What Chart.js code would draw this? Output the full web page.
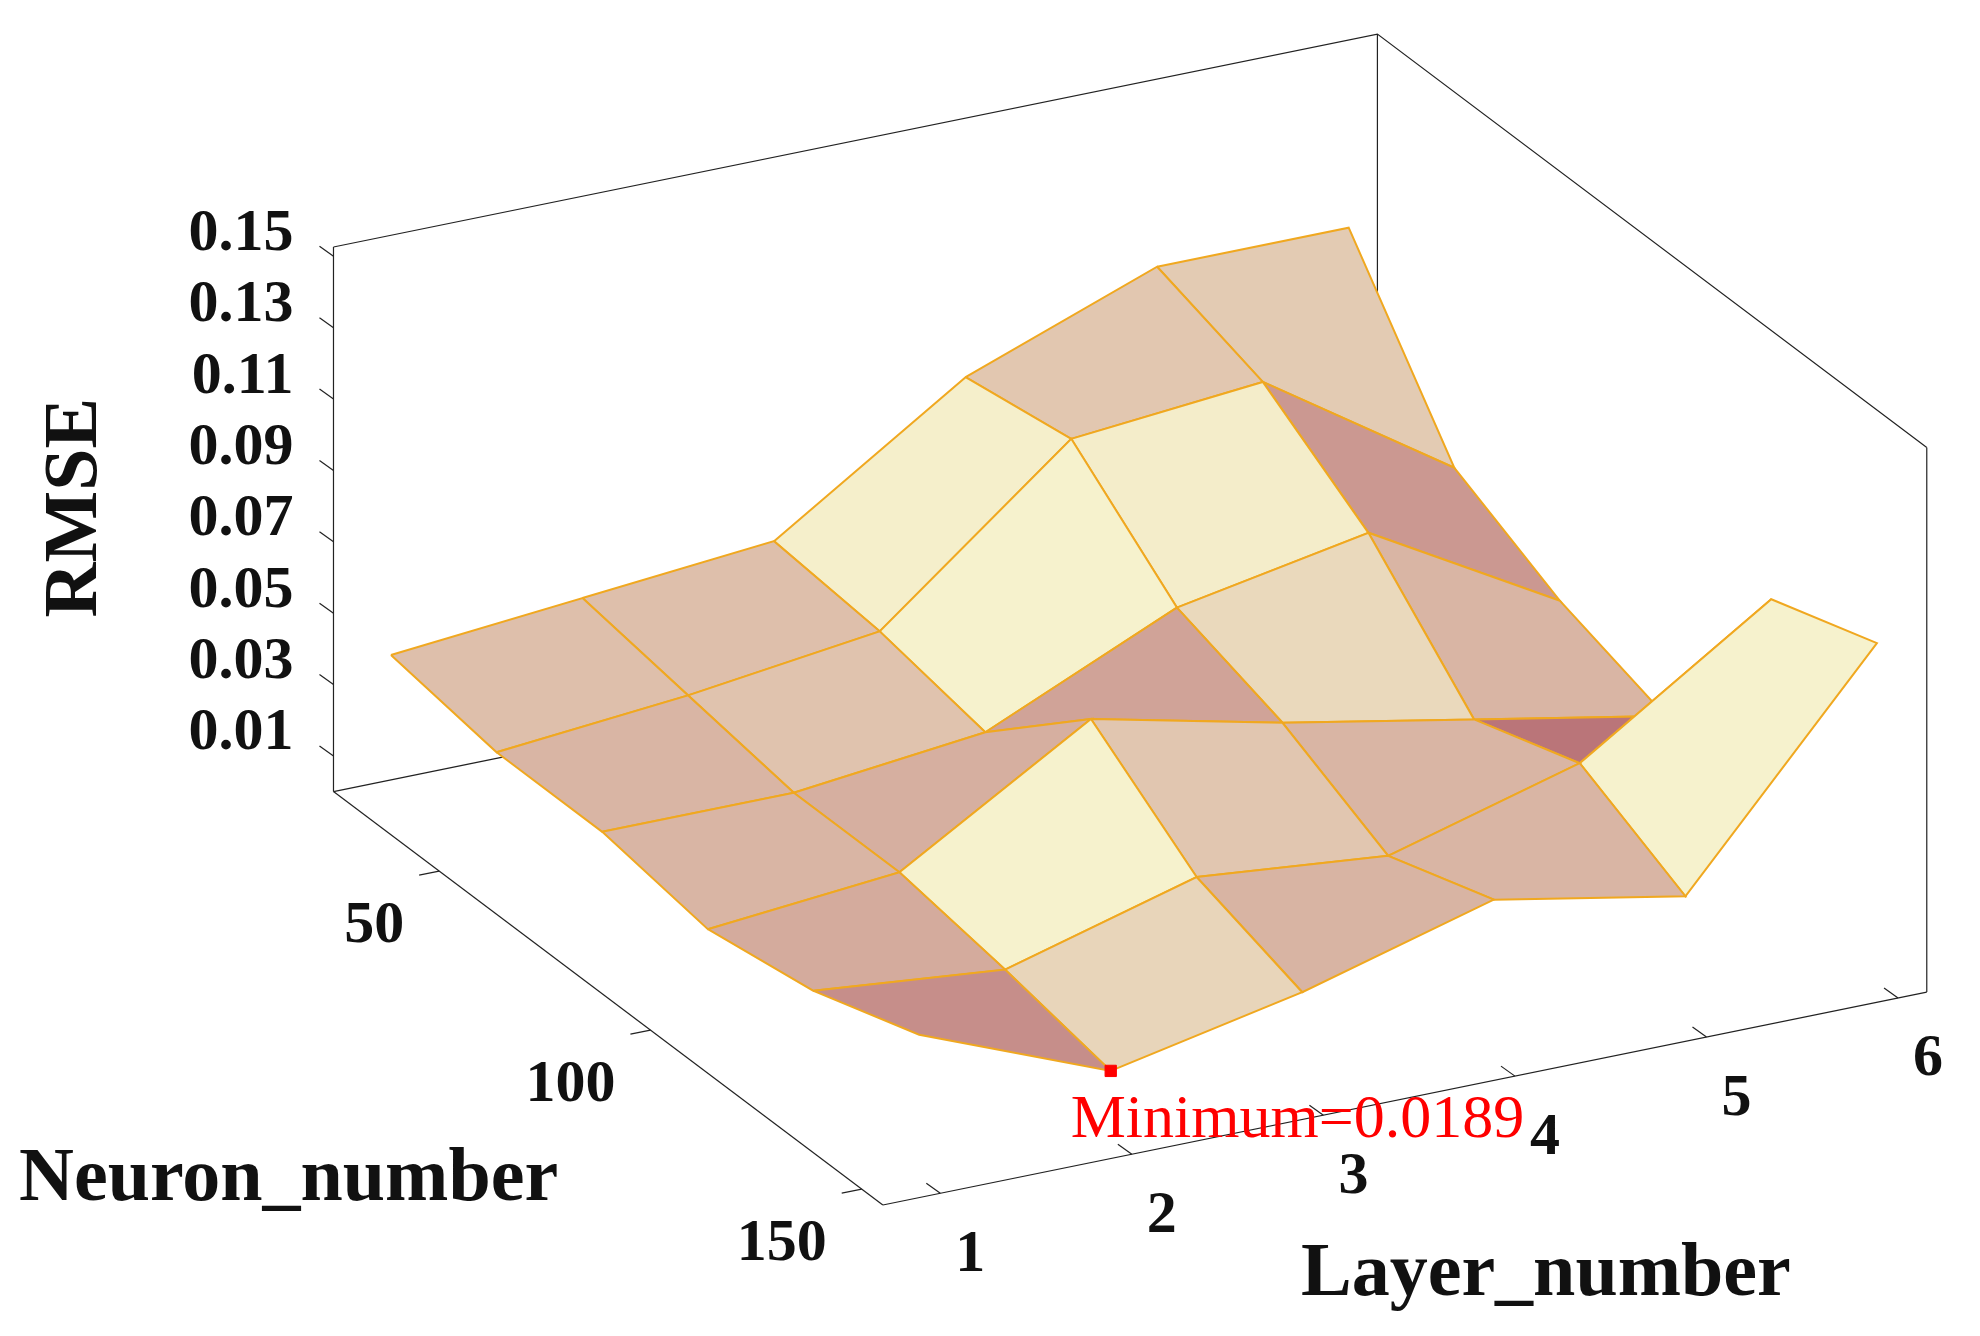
<!DOCTYPE html>
<html>
<head>
<script src="https://cdn.jsdelivr.net/npm/chart.js"></script>
<style>
html,body{margin:0;padding:0;background:#fff;}
#wrap{width:1980px;height:1336px;}
</style>
</head>
<body>
<div id="wrap"><canvas id="myChart"></canvas></div>
<script>
// data
const layers = [1, 2, 3, 4, 5, 6];
const neurons = [25, 50, 75, 100, 125, 150];
const rmseN25  = [0.035, 0.040, 0.045, 0.080, 0.100, 0.100];
const rmseN50  = [0.030, 0.035, 0.042, 0.085, 0.090, 0.055];
const rmseN75  = [0.030, 0.030, 0.036, 0.060, 0.070, 0.040];
const rmseN100 = [0.025, 0.030, 0.062, 0.050, 0.040, 0.030];
const rmseN125 = [0.030, 0.025, 0.040, 0.035, 0.050, 0.085];
const rmseN150 = [0.040, 0.0189, 0.030, 0.045, 0.035, 0.095];
const rmse = [rmseN25, rmseN50, rmseN75, rmseN100, rmseN125, rmseN150];
const zTicks = [0.01, 0.03, 0.05, 0.07, 0.09, 0.11, 0.13, 0.15];
const neuronTicks = [50, 100, 150];
const layerTicks = [1, 2, 3, 4, 5, 6];

// view: oblique projection of (layer, neuron, rmse) onto the page
const S = 1980 / 1560;
const L0 = 0.7, L1 = 6.15, N0 = 25, N1 = 155, Z1 = 0.1526;
function P(L, N, z) {
  const x = 258 + (L - L0) * 152.3 + (N - N0) * 3.36;
  const y = 625 - (L - L0) * 31.2 + (N - N0) * 2.54 - z * 2850;
  return {x: x * S, y: y * S};
}

const dark = [184, 112, 118], light = [246, 242, 205];
function shade(t) {
  t = Math.max(0, Math.min(1, t));
  const c = dark.map((d, i) => Math.round(d + (light[i] - d) * t));
  return 'rgb(' + c.join(',') + ')';
}

const quads = [];
for (let n = 0; n < neurons.length - 1; n++) {
  for (let l = 0; l < layers.length - 1; l++) {
    const a = rmse[n][l], b = rmse[n][l + 1], c = rmse[n + 1][l + 1], d = rmse[n + 1][l];
    const dzL = ((b - a) + (c - d)) / 2;   // slope along layer
    const dzN = ((d - a) + (c - b)) / 2;   // slope along neuron
    const t = 0.45 + dzL * 14 - dzN * 18;
    quads.push({
      depth: n + (layers.length - 2 - l),
      label: 'q' + n + '_' + l,
      data: [P(layers[l], neurons[n], a), P(layers[l + 1], neurons[n], b),
             P(layers[l + 1], neurons[n + 1], c), P(layers[l], neurons[n + 1], d),
             P(layers[l], neurons[n], a)],
      fillColor: shade(t)
    });
  }
}
// index 0 is painted last, so nearest quads go first
quads.sort((p, q) => q.depth - p.depth);

function line(pts, w) {
  return {data: pts, showLine: true, borderColor: '#222', borderWidth: w || 1.2,
          pointRadius: 0, fill: false};
}

const datasets = [];
// minimum marker
datasets.push({label: 'min', data: [P(2, 150, 0.0189)], pointStyle: 'rect', pointRadius: 8,
  backgroundColor: '#ff0000', borderColor: '#ff0000', showLine: false});
// box edges in front of the surface
datasets.push(line([P(L1, N1, 0), P(L1, N1, Z1)]));
quads.forEach(q => datasets.push({label: q.label, data: q.data, showLine: true,
  borderColor: '#f0a820', borderWidth: 2, pointRadius: 0, fill: false, polyFill: q.fillColor}));
// box edges behind the surface
datasets.push(line([P(L0, N1, 0), P(L1, N1, 0)]));
datasets.push(line([P(L0, N0, 0), P(L0, N1, 0)]));
datasets.push(line([P(L0, N0, 0), P(L1, N0, 0)]));
datasets.push(line([P(L0, N0, 0), P(L0, N0, Z1)]));
datasets.push(line([P(L0, N0, Z1), P(L1, N0, Z1), P(L1, N1, Z1)]));
datasets.push(line([P(L1, N0, 0), P(L1, N0, Z1)]));

const polyFill = {
  id: 'polyFill',
  beforeDatasetDraw(chart, args) {
    const ds = chart.data.datasets[args.index];
    if (!ds.polyFill) return;
    const pts = args.meta.data, ctx = chart.ctx;
    ctx.save();
    ctx.beginPath();
    pts.forEach((p, i) => i ? ctx.lineTo(p.x, p.y) : ctx.moveTo(p.x, p.y));
    ctx.closePath();
    ctx.fillStyle = ds.polyFill;
    ctx.fill();
    ctx.restore();
  }
};

const labels = {
  id: 'labels',
  afterDraw(chart) {
    const ctx = chart.ctx, sx = chart.scales.x, sy = chart.scales.y;
    const px = p => ({x: sx.getPixelForValue(p.x), y: sy.getPixelForValue(p.y)});
    ctx.save();
    ctx.strokeStyle = '#222';
    ctx.lineWidth = 1.2;
    ctx.fillStyle = '#111';
    ctx.font = 'bold 60px "Liberation Serif"';
    // rmse ticks
    ctx.textAlign = 'right'; ctx.textBaseline = 'middle';
    zTicks.forEach(z => {
      const p = px(P(L0, N0, z));
      ctx.beginPath(); ctx.moveTo(p.x, p.y); ctx.lineTo(p.x - 14, p.y - 10); ctx.stroke();
      ctx.fillText(z.toFixed(2), p.x - 40, p.y - 22);
    });
    // neuron ticks
    neuronTicks.forEach(v => {
      const p = px(P(L0, v, 0));
      ctx.beginPath(); ctx.moveTo(p.x, p.y); ctx.lineTo(p.x - 20, p.y + 4); ctx.stroke();
      ctx.fillText(String(v), p.x - 35, p.y + 55);
    });
    // layer ticks
    ctx.textAlign = 'center';
    layerTicks.forEach(v => {
      const p = px(P(v, N1, 0));
      ctx.beginPath(); ctx.moveTo(p.x, p.y); ctx.lineTo(p.x - 14, p.y - 10); ctx.stroke();
      ctx.fillText(String(v), p.x + 30, p.y + 62);
    });
    ctx.font = 'bold 76px "Liberation Serif"';
    ctx.textAlign = 'left';
    ctx.fillText('Neuron_number', 15 * S, 930 * S);
    ctx.fillText('Layer_number', 1025 * S, 1005 * S);
    ctx.save();
    ctx.translate(60 * S, 400 * S);
    ctx.rotate(-Math.PI / 2);
    ctx.textAlign = 'center';
    ctx.fillText('RMSE', 0, 0);
    ctx.restore();
    const m = px(P(2, 150, 0.0189));
    ctx.fillStyle = '#ff0000';
    ctx.font = '62px "Liberation Serif"';
    ctx.textAlign = 'left';
    ctx.fillText('Minimum=0.0189', m.x - 40, m.y + 50);
    ctx.restore();
  }
};

new Chart(document.getElementById('myChart'), {
  type: 'scatter',
  data: {datasets: datasets},
  options: {
    responsive: true,
    maintainAspectRatio: false,
    animation: false,
    layout: {padding: 0},
    plugins: {legend: {display: false}, tooltip: {enabled: false}},
    scales: {
      x: {type: 'linear', min: 0, max: 1980, display: false},
      y: {type: 'linear', min: 0, max: 1336, reverse: true, display: false}
    }
  },
  plugins: [polyFill, labels]
});
</script>
</body>
</html>
